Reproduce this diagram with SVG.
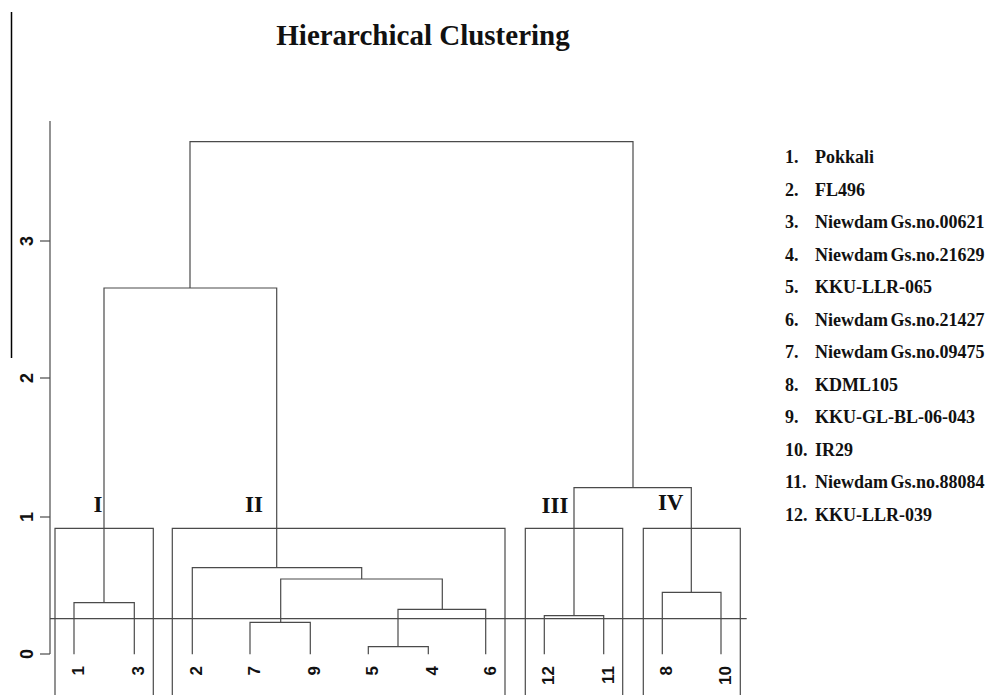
<svg xmlns="http://www.w3.org/2000/svg" width="987" height="695" viewBox="0 0 987 695">
  <style>
    .ln { stroke: #4a4a4a; stroke-width: 1.2; fill: none; }
    .box { stroke: #4a4a4a; stroke-width: 1.2; fill: none; }
    .title { font-family: "Liberation Serif", "Times New Roman", serif; font-weight: bold; font-size: 29px; fill: #111; }
    .tick { font-family: "Liberation Sans", Arial, sans-serif; font-weight: bold; font-size: 18px; fill: #111; }
    .leaf { font-family: "Liberation Sans", Arial, sans-serif; font-weight: bold; font-size: 17px; fill: #111; }
    .roman { font-family: "Liberation Serif", "Times New Roman", serif; font-weight: bold; font-size: 23px; fill: #111; }
    .legend { font-family: "Liberation Serif", "Times New Roman", serif; font-weight: bold; font-size: 18px; fill: #111; }
  </style>

  <rect width="987" height="695" fill="#ffffff"/>

  <!-- stray vertical rule at the far left -->
  <line x1="11.5" y1="12" x2="11.5" y2="358" stroke="#000" stroke-width="1.5"/>

  <!-- title -->
  <text class="title" x="423" y="45" text-anchor="middle">Hierarchical Clustering</text>

  <!-- height axis -->
  <g id="axis">
    <line class="ln" x1="50" y1="121" x2="50" y2="654"/>
    <line class="ln" x1="40" y1="241" x2="50" y2="241"/>
    <line class="ln" x1="40" y1="378" x2="50" y2="378"/>
    <line class="ln" x1="40" y1="517" x2="50" y2="517"/>
    <line class="ln" x1="40" y1="654" x2="50" y2="654"/>
    <text class="tick" transform="translate(33,241) rotate(-90)" text-anchor="middle">3</text>
    <text class="tick" transform="translate(33,378) rotate(-90)" text-anchor="middle">2</text>
    <text class="tick" transform="translate(33,517) rotate(-90)" text-anchor="middle">1</text>
    <text class="tick" transform="translate(33,654) rotate(-90)" text-anchor="middle">0</text>
  </g>

  <!-- dendrogram branches -->
  <g id="connectors">
    <!-- root -->
    <path class="ln" d="M190,288 V141.7 H633 V487.7"/>
    <!-- I + II -->
    <path class="ln" d="M104,602.7 V288 H276.7 V567.7"/>
    <!-- cluster I: 1,3 -->
    <path class="ln" d="M74,654.3 V602.7 H134.3 V654.3"/>
    <!-- cluster II -->
    <path class="ln" d="M192.3,654.3 V567.7 H361.7 V579"/>
    <path class="ln" d="M280.7,622.3 V579 H442.3 V609.3"/>
    <path class="ln" d="M250,654.3 V622.3 H310.3 V654.3"/>
    <path class="ln" d="M398,646.7 V609.3 H485.7 V654.3"/>
    <path class="ln" d="M368.3,654.3 V646.7 H428.3 V654.3"/>
    <!-- III + IV -->
    <path class="ln" d="M574,615.7 V487.7 H691.3 V592.3"/>
    <path class="ln" d="M544.3,654.3 V615.7 H603.7 V654.3"/>
    <path class="ln" d="M662.3,654.3 V592.3 H721 V654.3"/>
    <!-- cut line -->
    <line class="ln" x1="50" y1="618.7" x2="746.7" y2="618.7"/>
  </g>

  <!-- cluster frames and numerals -->
  <g id="cluster-I">
    <path class="box" d="M55,700 V528.3 H153.3 V700"/>
    <text class="roman" x="98" y="511.5" text-anchor="middle">I</text>
  </g>
  <g id="cluster-II">
    <path class="box" d="M172.3,700 V528.3 H505 V700"/>
    <text class="roman" x="254" y="511.5" text-anchor="middle">II</text>
  </g>
  <g id="cluster-III">
    <path class="box" d="M525.3,700 V528.3 H622.7 V700"/>
    <text class="roman" x="555" y="512.5" text-anchor="middle">III</text>
  </g>
  <g id="cluster-IV">
    <path class="box" d="M643.3,700 V528.3 H740.3 V700"/>
    <text class="roman" x="670.7" y="510" text-anchor="middle">IV</text>
  </g>

  <!-- leaf labels -->
  <g id="leaves">
    <text class="leaf" transform="translate(84,666) rotate(-90)" text-anchor="end">1</text>
    <text class="leaf" transform="translate(144.3,666) rotate(-90)" text-anchor="end">3</text>
    <text class="leaf" transform="translate(202.3,666) rotate(-90)" text-anchor="end">2</text>
    <text class="leaf" transform="translate(260,666) rotate(-90)" text-anchor="end">7</text>
    <text class="leaf" transform="translate(320.3,666) rotate(-90)" text-anchor="end">9</text>
    <text class="leaf" transform="translate(378.3,666) rotate(-90)" text-anchor="end">5</text>
    <text class="leaf" transform="translate(438.3,666) rotate(-90)" text-anchor="end">4</text>
    <text class="leaf" transform="translate(495.7,666) rotate(-90)" text-anchor="end">6</text>
    <text class="leaf" transform="translate(554.3,666) rotate(-90)" text-anchor="end">12</text>
    <text class="leaf" transform="translate(613.7,666) rotate(-90)" text-anchor="end">11</text>
    <text class="leaf" transform="translate(672.3,666) rotate(-90)" text-anchor="end">8</text>
    <text class="leaf" transform="translate(731,666) rotate(-90)" text-anchor="end">10</text>
  </g>

  <!-- legend -->
  <g id="legend" class="legend">
    <text x="785" y="163.3">1.</text><text x="815" y="163.3">Pokkali</text>
    <text x="785" y="196">2.</text><text x="815" y="196">FL496</text>
    <text x="785" y="228.3">3.</text><text x="815" y="228.3" word-spacing="-2">Niewdam Gs.no.00621</text>
    <text x="785" y="261">4.</text><text x="815" y="261" word-spacing="-2">Niewdam Gs.no.21629</text>
    <text x="785" y="293.3">5.</text><text x="815" y="293.3">KKU-LLR-065</text>
    <text x="785" y="326">6.</text><text x="815" y="326" word-spacing="-2">Niewdam Gs.no.21427</text>
    <text x="785" y="358.3">7.</text><text x="815" y="358.3" word-spacing="-2">Niewdam Gs.no.09475</text>
    <text x="785" y="391">8.</text><text x="815" y="391">KDML105</text>
    <text x="785" y="423.3">9.</text><text x="815" y="423.3">KKU-GL-BL-06-043</text>
    <text x="785" y="456">10.</text><text x="815" y="456">IR29</text>
    <text x="785" y="488.3">11.</text><text x="815" y="488.3" word-spacing="-2">Niewdam Gs.no.88084</text>
    <text x="785" y="521">12.</text><text x="815" y="521">KKU-LLR-039</text>
  </g>
</svg>
